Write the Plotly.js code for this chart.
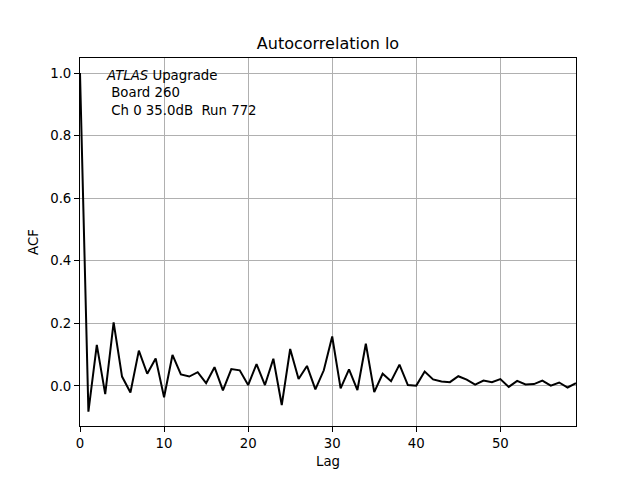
<!DOCTYPE html>
<html>
<head>
<meta charset="utf-8">
<script src="https://cdn.plot.ly/plotly-3.0.1.min.js"></script>
<style>html,body{margin:0;padding:0;background:#fff;}#chart{width:640px;height:480px;}</style>
</head>
<body>
<div id="chart"></div>
<script>
const lags = Array.from({length: 60}, (_, i) => i);
const acf = [
  1.0, -0.082, 0.131, -0.026, 0.203, 0.030, -0.021, 0.113, 0.039, 0.088,
  -0.036, 0.099, 0.037, 0.030, 0.044, 0.009, 0.060, -0.014, 0.054, 0.050,
  0.003, 0.070, 0.003, 0.087, -0.061, 0.118, 0.022, 0.064, -0.011, 0.050,
  0.158, -0.008, 0.053, -0.013, 0.135, -0.020, 0.039, 0.015, 0.068, 0.003,
  0.001, 0.046, 0.021, 0.014, 0.012, 0.031, 0.020, 0.004, 0.017, 0.012,
  0.022, -0.003, 0.016, 0.005, 0.006, 0.017, 0.001, 0.011, -0.005, 0.009
];
const titleText = "Autocorrelation lo";
const xLabel = "Lag";
const yLabel = "ACF";
const infoText = "<i>ATLAS</i> Upagrade<br>&nbsp;Board 260<br>&nbsp;Ch 0 35.0dB&nbsp; Run 772";

const font = {family: "DejaVu Sans", size: 13.3, color: "#000"};
const axisCommon = {
  showline: true, mirror: true, linecolor: "#000", linewidth: 1,
  ticks: "outside", ticklen: 5, tickwidth: 1, tickcolor: "#000",
  showgrid: true, gridcolor: "#b0b0b0", gridwidth: 1,
  zeroline: false, tickfont: {family: "DejaVu Sans", size: 13.3, color: "#000"}
};
const layout = {
  width: 640, height: 480,
  margin: {l: 80, r: 64, t: 58, b: 54, pad: 0},
  paper_bgcolor: "#fff", plot_bgcolor: "#fff",
  font: font,
  showlegend: false,
  title: {text: titleText, font: {family: "DejaVu Sans", size: 16, color: "#000"}, x: 0.5, xref: "paper", xanchor: "center", y: 1 - 43/480, yanchor: "middle"},
  xaxis: Object.assign({}, axisCommon, {
    range: [0, 59], tickvals: [0, 10, 20, 30, 40, 50],
    title: {text: xLabel, font: font, standoff: 6}
  }),
  yaxis: Object.assign({}, axisCommon, {
    range: [-0.128, 1.048], tickvals: [0, 0.2, 0.4, 0.6, 0.8, 1.0], tickformat: ".1f",
    title: {text: yLabel, font: font, standoff: 8}
  }),
  annotations: [{
    text: infoText, xref: "paper", yref: "paper", x: 0.048, y: 0.978,
    xanchor: "left", yanchor: "top", align: "left", showarrow: false,
    font: {family: "DejaVu Sans", size: 13.3, color: "#000"}
  }]
};
Plotly.newPlot("chart", [{
  x: lags, y: acf, type: "scatter", mode: "lines",
  line: {color: "#000", width: 2}, hoverinfo: "skip"
}], layout, {displayModeBar: false, staticPlot: true});
</script>
</body>
</html>
